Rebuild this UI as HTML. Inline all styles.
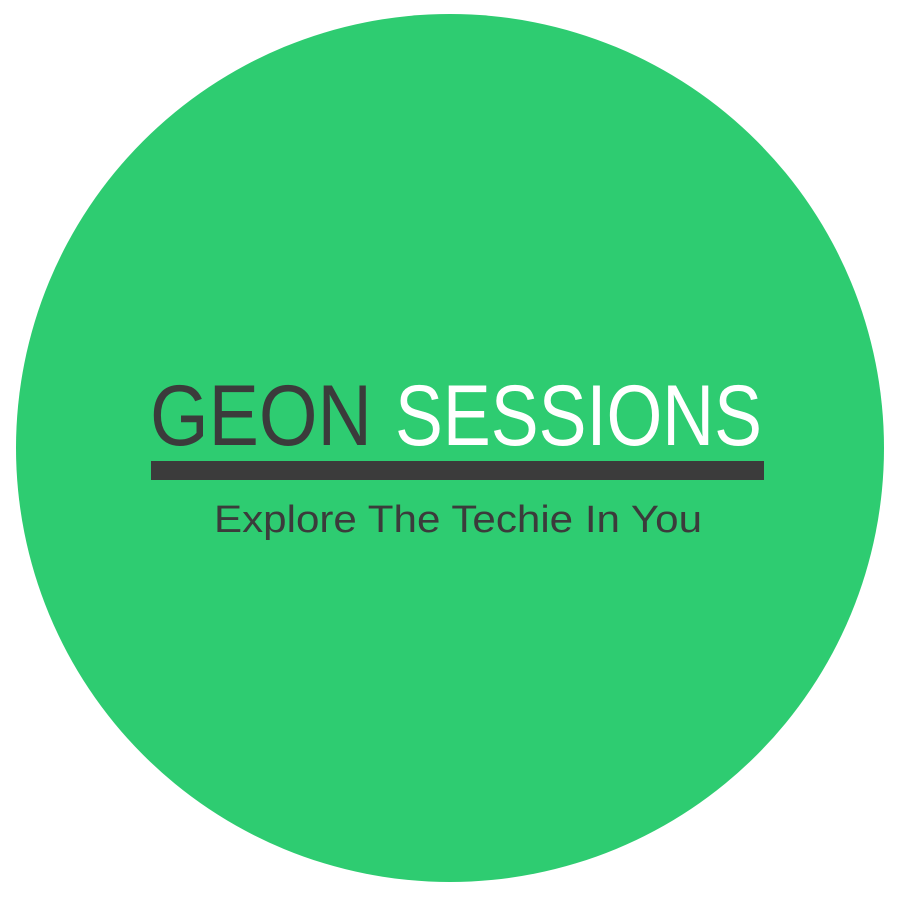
<!DOCTYPE html>
<html>
<head>
<meta charset="utf-8">
<style>
  html, body { margin: 0; padding: 0; background: #ffffff; }
  svg { display: block; }
  text { font-family: "Liberation Sans", "DejaVu Sans", sans-serif; }
</style>
</head>
<body>
<svg width="900" height="900" viewBox="0 0 900 900">
  <circle cx="450" cy="448" r="434" fill="#2ecc71"/>
  <text x="150" y="445" font-size="86" fill="#3b3b3b" textLength="222" lengthAdjust="spacingAndGlyphs">GEON</text>
  <text x="395" y="445" font-size="86" fill="#ffffff" textLength="367" lengthAdjust="spacingAndGlyphs">SESSIONS</text>
  <rect x="151" y="461" width="613" height="19" fill="#3b3b3b"/>
  <text x="214" y="532" font-size="38" fill="#3b3b3b" textLength="488" lengthAdjust="spacingAndGlyphs">Explore The Techie In You</text>
</svg>
</body>
</html>
